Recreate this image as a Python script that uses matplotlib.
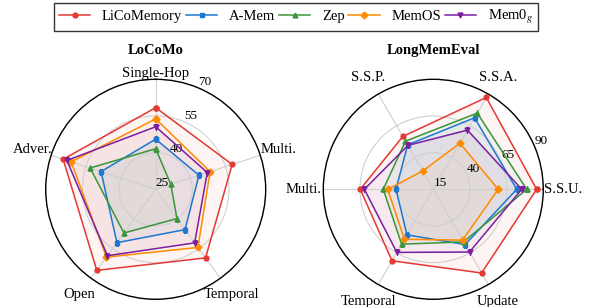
import numpy as np
import matplotlib
matplotlib.use("Agg")
import matplotlib.pyplot as plt

plt.rcParams['font.family'] = ['Liberation Serif', 'DejaVu Serif']
plt.rcParams['mathtext.fontset'] = 'stix'

methods = ['LiCoMemory', 'A-Mem', 'Zep', 'MemOS', 'Mem0$_g$']
colors = ['#e53935', '#1e78d2', '#3a963a', '#ff8c00', '#7b1fa2']
markers = ['o', 's', '^', 'D', 'v']

# LoCoMo
locomo_cats = ['Single-Hop', 'Multi.', 'Temporal', 'Open', 'Adver.']
locomo_licomemory = [58.4, 57.9, 59.7, 66.0, 64.8]
locomo_amem = [45.5, 43.6, 45.4, 52.0, 48.5]
locomo_zep = [41.6, 31.5, 39.8, 47.1, 53.2]
locomo_memos = [53.8, 48.4, 54.4, 59.3, 61.4]
locomo_mem0g = [50.6, 47.2, 52.1, 58.6, 63.2]
locomo_ticks = [25, 40, 55, 70]

# LongMemEval
lme_cats = ['S.S.U.', 'S.S.A.', 'S.S.P.', 'Multi.', 'Temporal', 'Update']
lme_licomemory = [85.5, 87.3, 56.6, 64.8, 71.3, 80.9]
lme_amem = [71.9, 71.3, 50.0, 40.4, 50.9, 58.5]
lme_zep = [78.7, 75.0, 52.9, 49.1, 58.2, 56.4]
lme_memos = [59.3, 51.3, 29.4, 46.1, 54.4, 55.0]
lme_mem0g = [75.3, 61.6, 49.6, 62.0, 64.7, 64.4]
lme_ticks = [15, 40, 65, 90]


def radar(ax, cats, series, ticks, title):
    n = len(cats)
    angles = np.linspace(0, 2 * np.pi, n, endpoint=False)
    for vals, c, m, name in zip(series, colors, markers, methods):
        a = np.append(angles, angles[0])
        v = np.append(vals, vals[0])
        ax.plot(a, v, color=c, lw=1.1, marker=m, ms=3.5, label=name)
        ax.fill(a, v, color=c, alpha=0.05)
    ax.set_xticks(angles)
    ax.set_xticklabels(cats, fontsize=10.5)
    ax.set_ylim(ticks[0], ticks[-1])
    ax.set_yticks(ticks)
    ax.set_yticklabels([str(t) for t in ticks], fontsize=9.5)
    ax.grid(color='#d0d0d0', lw=0.8)
    ax.spines['polar'].set_color('black')
    ax.spines['polar'].set_linewidth(1.0)
    ax.set_title(title, fontsize=10.5, fontweight='bold', pad=18)


fig = plt.figure(figsize=(5.92, 3.07), dpi=100)

ax1 = fig.add_axes([0.0772, 0.0251, 0.3716, 0.7166], projection='polar')
ax1.set_theta_offset(np.pi / 2)
ax1.set_theta_direction(-1)
radar(ax1, locomo_cats,
      [locomo_licomemory, locomo_amem, locomo_zep, locomo_memos, locomo_mem0g],
      locomo_ticks, 'LoCoMo')
# top label sits closer to the circle
ax1.xaxis.get_major_ticks()[0].set_pad(-6)

ax2 = fig.add_axes([0.5461, 0.0251, 0.3716, 0.7166], projection='polar')
radar(ax2, lme_cats,
      [lme_licomemory, lme_amem, lme_zep, lme_memos, lme_mem0g],
      lme_ticks, 'LongMemEval')

handles, labels = ax1.get_legend_handles_labels()
fig.legend(handles, labels, loc='upper center', bbox_to_anchor=(0.5, 0.99),
           ncol=5, fontsize=10.5, frameon=True, fancybox=False,
           edgecolor='black', handlelength=2.15, handletextpad=0.8,
           columnspacing=0.25, borderpad=0.35, borderaxespad=0)

fig.savefig('out.png', dpi=100)
